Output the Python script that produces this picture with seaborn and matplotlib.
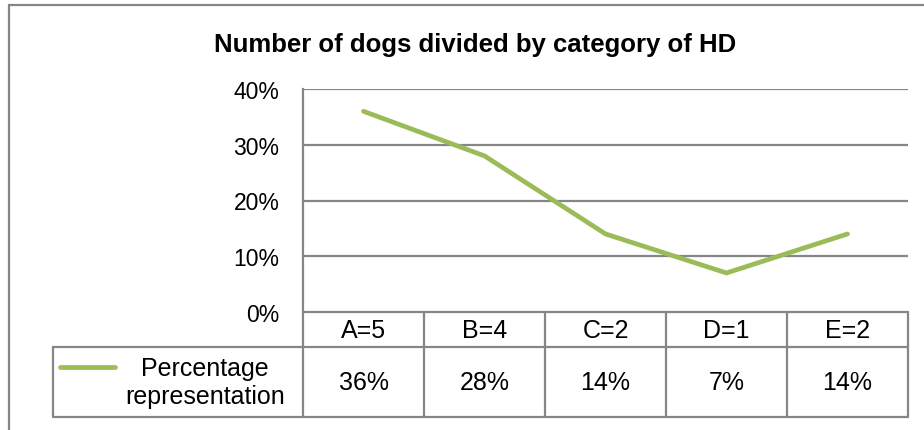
import seaborn as sns
import matplotlib.pyplot as plt
import pandas as pd
from matplotlib.lines import Line2D
import matplotlib.transforms as mtransforms

categories = ['A=5', 'B=4', 'C=2', 'D=1', 'E=2']
percentages = [36, 28, 14, 7, 14]
value_labels = ['36%', '28%', '14%', '7%', '14%']
series_name = 'Percentage\nrepresentation'
title = 'Number of dogs divided by category of HD'
yticks = [0, 10, 20, 30, 40]

sns.set_theme(style='white')
plt.rcParams['font.family'] = ['Liberation Sans', 'DejaVu Sans']
plt.rcParams['text.color'] = 'black'
plt.rcParams['ytick.color'] = 'black'

W, H = 924, 431
fig = plt.figure(figsize=(W / 100, H / 100), dpi=100)
ax = fig.add_axes([303 / W, 1 - 313 / H, (908 - 303) / W, (313 - 90) / H])

df = pd.DataFrame({'x': range(len(categories)), 'pct': percentages})
green = '#9BBB59'
grey = '#868686'
sns.lineplot(data=df, x='x', y='pct', color=green, linewidth=3.4, ax=ax,
             solid_capstyle='round', solid_joinstyle='miter')

ax.set_xlim(-0.5, len(categories) - 0.5)
ax.set_ylim(0, 40)
ax.set_yticks(yticks)
ax.set_yticklabels([f'{t}%' for t in yticks], fontsize=16.5)
ax.set_xticks([])
ax.set_xlabel('')
ax.set_ylabel('')
ax.tick_params(axis='y', length=0, pad=17)
for t in yticks[1:]:
    ax.axhline(t, color=grey, linewidth=1.6, zorder=0)
for s in ['top', 'right', 'bottom']:
    ax.spines[s].set_visible(False)
ax.spines['left'].set_color(grey)
ax.spines['left'].set_linewidth(1.6)

fig.text(475 / W, 1 - 45 / H, title, ha='center', va='center',
         fontsize=18.5, fontweight='bold')

# data table under the plot (x in data units, y in axes units)
tr = mtransforms.blended_transform_factory(ax.transData, ax.transAxes)
ppx = (len(categories)) / (908 - 303)
ppy = 1 / (313 - 90)
y_head = -(348 - 313) * ppy
y_bot = -(418 - 313) * ppy
x_leg = -0.5 - (303 - 53) * ppx
x_right = len(categories) - 0.5


def tline(xs, ys):
    ax.add_line(Line2D(xs, ys, transform=tr, color=grey, linewidth=1.6,
                       clip_on=False))


tline([-0.5, x_right], [0, 0])
tline([x_leg, x_right], [y_head, y_head])
tline([x_leg, x_right], [y_bot, y_bot])
tline([x_leg, x_leg], [y_head, y_bot])
for i in range(len(categories) + 1):
    tline([i - 0.5, i - 0.5], [0, y_bot])

for i, (c, v) in enumerate(zip(categories, value_labels)):
    ax.text(i, y_head / 2 - 1 * ppy, c, transform=tr, ha='center',
            va='center', fontsize=18)
    ax.text(i, (y_head + y_bot) / 2, v, transform=tr, ha='center',
            va='center', fontsize=18)

key_y = -(368 - 313) * ppy
ax.add_line(Line2D([x_leg + 7 * ppx, x_leg + 62 * ppx], [key_y, key_y],
                   transform=tr, color=green, linewidth=3.4,
                   solid_capstyle='round', clip_on=False))
ax.text(-0.5 - (303 - 205) * ppx, (y_head + y_bot) / 2, series_name,
        transform=tr, ha='center', va='center', fontsize=18,
        linespacing=1.25)

# outer chart border
fig.add_artist(Line2D([9 / W, 1], [1 - 6 / H, 1 - 6 / H], color=grey,
                      linewidth=1.6))
fig.add_artist(Line2D([9 / W, 9 / W], [0, 1 - 6 / H], color=grey,
                      linewidth=1.6))

fig.savefig('out.png', dpi=100)
